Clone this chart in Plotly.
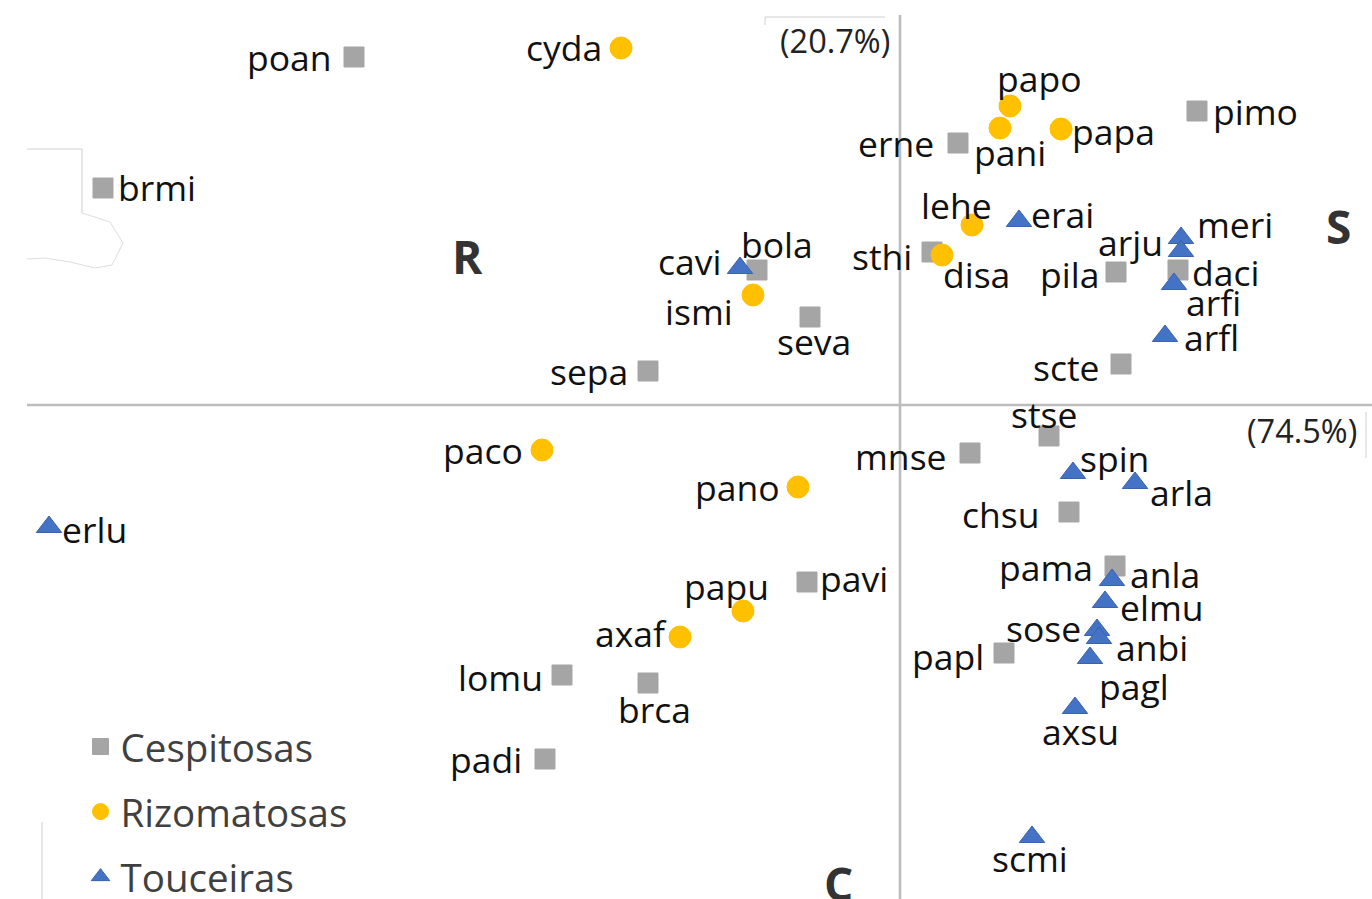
import plotly.graph_objects as go

# ---------------- data (ordination scores) ----------------
cesp_names = ["poan", "brmi", "erne", "pimo", "bola", "sthi", "pila", "daci", "seva", "sepa",
              "scte", "stse", "mnse", "chsu", "pama", "pavi", "papl", "lomu", "brca", "padi"]
cesp_x = [-5.46, -7.97, 0.58, 2.97, -1.43, 0.32, 2.16, 2.78, -0.90, -2.52,
          2.21, 1.49, 0.70, 1.69, 2.15, -0.93, 1.04, -3.38, -2.52, -3.55]
cesp_y = [3.48, 2.17, 2.62, 2.94, 1.35, 1.53, 1.33, 1.35, 0.88, 0.34,
          0.41, -0.31, -0.48, -1.07, -1.61, -1.77, -2.48, -2.70, -2.78, -3.54]

rizo_names = ["cyda", "papo", "pani", "papa", "lehe", "disa", "ismi", "paco", "pano", "papu", "axaf"]
rizo_x = [-2.79, 1.10, 1.00, 1.61, 0.72, 0.42, -1.47, -3.58, -1.02, -1.57, -2.20]
rizo_y = [3.57, 2.99, 2.77, 2.76, 1.80, 1.50, 1.10, -0.45, -0.82, -2.06, -2.32]

touc_names = ["erai", "cavi", "meri", "arju", "arfi", "arfl", "spin", "arla", "anla", "elmu",
              "sose", "anbi", "pagl", "axsu", "scmi", "erlu"]
touc_x = [1.19, -1.60, 2.81, 2.81, 2.74, 2.65, 1.73, 2.35, 2.12, 2.05,
          1.97, 1.99, 1.90, 1.75, 1.32, -8.51]
touc_y = [1.84, 1.37, 1.67, 1.54, 1.21, 0.69, -0.68, -0.78, -1.75, -1.97,
          -2.25, -2.33, -2.53, -3.03, -4.32, -1.22]

series_names = ["Cespitosas", "Rizomatosas", "Touceiras"]
axis_pct = ["(20.7%)", "(74.5%)"]
corner_letters = ["R", "S", "C"]

# ---------------- styles ----------------
# label offsets in screen pixels (dx right, dy down) relative to each point
label_offsets = {
    "poan": (-65, 0), "brmi": (54, -1), "erne": (-62, 0), "pimo": (58, 0), "bola": (20, -26),
    "sthi": (-50, 4), "pila": (-47, 2), "daci": (47, 2), "seva": (4, 24), "sepa": (-59, 0),
    "scte": (-55, 3), "stse": (-5, -22), "mnse": (-69, 3), "chsu": (-69, 2), "pama": (-69, 1),
    "pavi": (47, -4), "papl": (-56, 3), "lomu": (-62, 2), "brca": (6, 26), "padi": (-59, 0),
    "cyda": (-57, -1), "papo": (29, -28), "pani": (10, 24), "papa": (52, 2), "lehe": (-16, -20),
    "disa": (34, 19), "ismi": (-54, 16), "paco": (-59, 0), "pano": (-61, 0), "papu": (-17, -25),
    "axaf": (-49, -4),
    "erai": (43, -7), "cavi": (-51, -7), "meri": (54, -14), "arju": (-51, -9), "arfi": (39, 18),
    "arfl": (46, 1), "spin": (41, -15), "arla": (46, 9), "anla": (53, -6), "elmu": (57, 5),
    "sose": (-54, -2), "anbi": (53, 9), "pagl": (44, 28), "axsu": (5, 23), "scmi": (-2, 21),
    "erlu": (45, 2),
}

W, H = 1372, 899
FONT = "Open Sans"
LABEL_SIZE = 35.5
GREY = "#A5A5A5"
GOLD = "#FFC000"
BLUE = "#4472C4"

fig = go.Figure()

specs = [
    (series_names[0], cesp_names, cesp_x, cesp_y, "square", 20, GREY, GREY),
    (series_names[1], rizo_names, rizo_x, rizo_y, "circle", 22, GOLD, GOLD),
    (series_names[2], touc_names, touc_x, touc_y, "triangle-up", 22, BLUE, "#3A62AD"),
]
for i, (nm, names, xs, ys, sym, sz, col, lcol) in enumerate(specs):
    fig.add_trace(go.Scatter(
        x=xs, y=ys, mode="markers", name=nm, legendgroup=f"g{i}",
        text=names, hoverinfo="text+x+y",
        marker=dict(symbol=sym, size=sz, color=col, line=dict(color=lcol, width=1)),
    ))
    for n, xv, yv in zip(names, xs, ys):
        dx, dy = label_offsets[n]
        fig.add_annotation(x=xv, y=yv, text=n, showarrow=False, xanchor="center", yanchor="middle",
                           xshift=dx, yshift=-dy,
                           font=dict(family=FONT, size=LABEL_SIZE, color="#111111"))

# axis cross lines
AX = "#BDBDBD"
fig.add_shape(type="line", x0=0, x1=0, y0=3.90, y1=-5.0, xref="x", yref="y",
              line=dict(color=AX, width=2.6), layer="below")
fig.add_shape(type="line", x0=-8.73, x1=4.8, y0=0, y1=0, xref="x", yref="y",
              line=dict(color=AX, width=2.6), layer="below")


# faint leftover outlines of the original slide (paper pixel helper)
def px(xp, yp):
    return xp / W, 1 - yp / H


FAINT = dict(color="#D0D0D0", width=1)
for (xa, ya), (xb, yb) in [((765, 17), (885, 17)), ((765, 17), (765, 25)),
                           ((27, 149), (82, 149)), ((82, 149), (82, 213)),
                           ((42, 822), (42, 899)), ((1366, 412), (1366, 458))]:
    x0, y0 = px(xa, ya)
    x1, y1 = px(xb, yb)
    fig.add_shape(type="line", xref="paper", yref="paper", x0=x0, y0=y0, x1=x1, y1=y1, line=FAINT)
pts = [(82, 213), (110, 222), (123, 243), (112, 265), (95, 268), (70, 262), (45, 258), (27, 259)]
path = "M " + " L ".join(f"{px(a, b)[0]:.4f},{px(a, b)[1]:.4f}" for a, b in pts)
fig.add_shape(type="path", xref="paper", yref="paper", path=path, line=dict(color="#DDDDDD", width=1))

# percentage annotations
fig.add_annotation(x=-0.65, y=3.65, text=axis_pct[0], showarrow=False, xanchor="center", yanchor="middle",
                   font=dict(family=FONT, size=32.5, color="#222222"))
fig.add_annotation(x=4.02, y=-0.25, text=axis_pct[1], showarrow=False, xanchor="center", yanchor="middle",
                   font=dict(family=FONT, size=32.5, color="#222222"))

# strategy letters
for letter, lx, ly in zip(corner_letters, [-4.33, 4.38, -0.62], [1.49, 1.79, -4.78]):
    fig.add_annotation(x=lx, y=ly, text=f"<b>{letter}</b>", showarrow=False, xanchor="center",
                       yanchor="middle", font=dict(family=FONT, size=46, color="#333333"))

fig.update_xaxes(range=[-9.0, 4.72], visible=False, showgrid=False, zeroline=False, fixedrange=True)
fig.update_yaxes(range=[-4.94, 4.05], visible=False, showgrid=False, zeroline=False, fixedrange=True)

fig.update_layout(
    width=W, height=H,
    margin=dict(l=0, r=0, t=0, b=0, autoexpand=False),
    paper_bgcolor="white", plot_bgcolor="white",
    showlegend=True,
    legend=dict(x=0.0587, xanchor="left", y=1 - 715 / H, yanchor="top",
                font=dict(family=FONT, size=38.5, color="#404040"),
                tracegroupgap=12, bgcolor="rgba(0,0,0,0)", itemsizing="trace"),
)

fig.write_html("out.html", config={"displayModeBar": False},
               post_script="document.body.style.margin='0';document.body.style.overflow='hidden';")
